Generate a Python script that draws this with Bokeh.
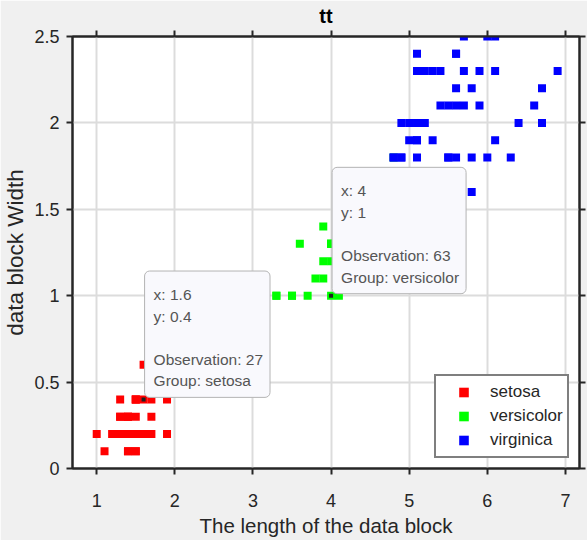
from bokeh.plotting import figure
from bokeh.models import (LinearAxis, FixedTicker, Label, Legend, LegendItem,
                          Range1d, Grid, CustomLabelingPolicy)
from bokeh.embed import file_html
from bokeh.resources import INLINE

# Fisher iris: petal length / petal width by group
setosa_len = [1.4, 1.4, 1.3, 1.5, 1.4, 1.7, 1.4, 1.5, 1.4, 1.5, 1.5, 1.6, 1.4, 1.1, 1.2, 1.5, 1.3, 1.4, 1.7, 1.5,
              1.7, 1.5, 1.0, 1.7, 1.9, 1.6, 1.6, 1.5, 1.4, 1.6, 1.6, 1.5, 1.5, 1.4, 1.5, 1.2, 1.3, 1.4, 1.3, 1.5,
              1.3, 1.3, 1.3, 1.6, 1.9, 1.4, 1.6, 1.4, 1.5, 1.4]
setosa_wid = [0.2, 0.2, 0.2, 0.2, 0.2, 0.4, 0.3, 0.2, 0.2, 0.1, 0.2, 0.2, 0.1, 0.1, 0.2, 0.4, 0.4, 0.3, 0.3, 0.3,
              0.2, 0.4, 0.2, 0.5, 0.2, 0.2, 0.4, 0.2, 0.2, 0.2, 0.2, 0.4, 0.1, 0.2, 0.2, 0.2, 0.2, 0.1, 0.2, 0.2,
              0.3, 0.3, 0.2, 0.6, 0.4, 0.3, 0.2, 0.2, 0.2, 0.2]
versicolor_len = [4.7, 4.5, 4.9, 4.0, 4.6, 4.5, 4.7, 3.3, 4.6, 3.9, 3.5, 4.2, 4.0, 4.7, 3.6, 4.4, 4.5, 4.1, 4.5, 3.9,
                  4.8, 4.0, 4.9, 4.7, 4.3, 4.4, 4.8, 5.0, 4.5, 3.5, 3.8, 3.7, 3.9, 5.1, 4.5, 4.5, 4.7, 4.4, 4.1, 4.0,
                  4.4, 4.6, 4.0, 3.3, 4.2, 4.2, 4.2, 4.3, 3.0, 4.1]
versicolor_wid = [1.4, 1.5, 1.5, 1.3, 1.5, 1.3, 1.6, 1.0, 1.3, 1.4, 1.0, 1.5, 1.0, 1.4, 1.3, 1.4, 1.5, 1.0, 1.5, 1.1,
                  1.8, 1.3, 1.5, 1.2, 1.3, 1.4, 1.4, 1.7, 1.5, 1.0, 1.1, 1.0, 1.2, 1.6, 1.5, 1.6, 1.5, 1.3, 1.3, 1.3,
                  1.2, 1.4, 1.2, 1.0, 1.3, 1.2, 1.3, 1.3, 1.1, 1.3]
virginica_len = [6.0, 5.1, 5.9, 5.6, 5.8, 6.6, 4.5, 6.3, 5.8, 6.1, 5.1, 5.3, 5.5, 5.0, 5.1, 5.3, 5.5, 6.7, 6.9, 5.0,
                 5.7, 4.9, 6.7, 4.9, 5.7, 6.0, 4.8, 4.9, 5.6, 5.8, 6.1, 6.4, 5.6, 5.1, 5.6, 6.1, 5.6, 5.5, 4.8, 5.4,
                 5.6, 5.1, 5.1, 5.9, 5.7, 5.2, 5.0, 5.2, 5.4, 5.1]
virginica_wid = [2.5, 1.9, 2.1, 1.8, 2.2, 2.1, 1.7, 1.8, 1.8, 2.5, 2.0, 1.9, 2.1, 2.0, 2.4, 2.3, 1.8, 2.2, 2.3, 1.5,
                 2.3, 2.0, 2.0, 1.8, 2.1, 1.8, 1.8, 1.8, 2.1, 1.6, 1.9, 2.0, 2.2, 1.5, 1.4, 2.3, 2.4, 1.8, 1.8, 2.1,
                 2.4, 2.3, 1.9, 2.3, 2.5, 2.3, 1.9, 2.0, 2.3, 1.8]

groups = ["setosa", "versicolor", "virginica"]
colors = ["#ff0000", "#00ff00", "#0000ff"]

x_ticks = [1, 2, 3, 4, 5, 6, 7]
y_ticks = [0, 0.5, 1, 1.5, 2, 2.5]
y_tick_labels = ["0", "0.5", "1", "1.5", "2", "2.5"]

tip_x = [1.6, 4]
tip_y = [0.4, 1]
tip_obs = [27, 63]
tip_group = ["setosa", "versicolor"]

FONT = "Liberation Sans"
INK = "#262626"

p = figure(frame_width=507, frame_height=432, title=None,
           x_range=Range1d(0.69, 7.18), y_range=Range1d(0, 2.5),
           x_axis_location=None, y_axis_location=None,
           output_backend="svg", toolbar_location=None,
           min_border_left=72, min_border_right=8, min_border_top=36, min_border_bottom=72)
p.border_fill_color = "#f0f0f0"
p.background_fill_color = "#ffffff"
p.outline_line_color = INK
p.outline_line_width = 2

xt = FixedTicker(ticks=x_ticks)
yt = FixedTicker(ticks=y_ticks)

hide_all = CustomLabelingPolicy(code="for (const i of Array.from(indices)) { indices.unset(i) }\nreturn indices")


def style_axis(ax):
    ax.axis_line_color = INK
    ax.axis_line_width = 2
    ax.major_tick_line_color = INK
    ax.major_tick_line_width = 2
    ax.major_tick_out = 6
    ax.major_tick_in = 0
    ax.minor_tick_line_color = None
    ax.major_label_text_font = FONT
    ax.major_label_text_color = INK
    ax.major_label_text_font_size = "18px"
    ax.axis_label_text_font = FONT
    ax.axis_label_text_color = INK
    ax.axis_label_text_font_style = "normal"


bottom = LinearAxis(ticker=xt, axis_label="The length of the data block")
style_axis(bottom)
bottom.axis_label_text_font_size = "20.5px"
bottom.major_label_standoff = 19
bottom.axis_label_standoff = 4
p.add_layout(bottom, "below")

left = LinearAxis(ticker=yt, axis_label="data block Width")
style_axis(left)
left.axis_label_text_font_size = "22.5px"
left.major_label_standoff = 7
left.axis_label_standoff = 3
left.major_label_overrides = {t: s for t, s in zip(y_ticks, y_tick_labels)}
p.add_layout(left, "left")

top = LinearAxis(ticker=xt, axis_label="tt")
style_axis(top)
top.major_label_policy = hide_all
top.major_label_text_font_size = "1px"
top.major_label_standoff = 0
top.axis_label_standoff = 0
top.axis_label_text_font_size = "20px"
top.axis_label_text_font_style = "bold"
top.axis_label_text_color = "#000000"
p.add_layout(top, "above")

right = LinearAxis(ticker=yt)
style_axis(right)
right.major_label_policy = hide_all
right.major_label_text_font_size = "1px"
right.major_label_standoff = 0
p.add_layout(right, "right")

for dim, tk in ((0, xt), (1, yt)):
    g = Grid(dimension=dim, ticker=tk, grid_line_color="#dcdcdc", grid_line_width=2)
    p.add_layout(g)

data = [(setosa_len, setosa_wid), (versicolor_len, versicolor_wid), (virginica_len, virginica_wid)]
renderers = []
for (xs, ys), c in zip(data, colors):
    r = p.scatter(xs, ys, marker="square", size=8, fill_color=c, line_color=None)
    renderers.append(r)

# data tip markers
p.scatter(tip_x, tip_y, marker="square", size=4, fill_color="#202020", line_color=None)

legend = Legend(items=[LegendItem(label=g, renderers=[r]) for g, r in zip(groups, renderers)],
                location=(362, 10), padding=4, margin=0, spacing=0,
                glyph_width=47, glyph_height=24, label_height=24, label_standoff=3,
                label_text_font=FONT, label_text_font_size="17px", label_text_color=INK,
                border_line_color="#000000", border_line_width=2,
                background_fill_color="#ffffff", background_fill_alpha=1)
p.add_layout(legend)

for tx, ty, ob, gr in zip(tip_x, tip_y, tip_obs, tip_group):
    txt = f"x: {tx:g}\ny: {ty:g}\n\nObservation: {ob}\nGroup: {gr}"
    lab = Label(x=tx, y=ty, text=txt, x_offset=1, y_offset=2,
                text_align="left", text_baseline="bottom",
                text_font=FONT, text_font_size="15.5px", text_color="#555555",
                text_line_height=1.27,
                background_fill_color="#f9f9fd", background_fill_alpha=1,
                border_line_color="#b4b4b4", border_line_width=1,
                border_radius=5, padding=dict(left=9, right=7, top=15, bottom=8))
    p.add_layout(lab)

open("out.html", "w").write(file_html(p, INLINE))
